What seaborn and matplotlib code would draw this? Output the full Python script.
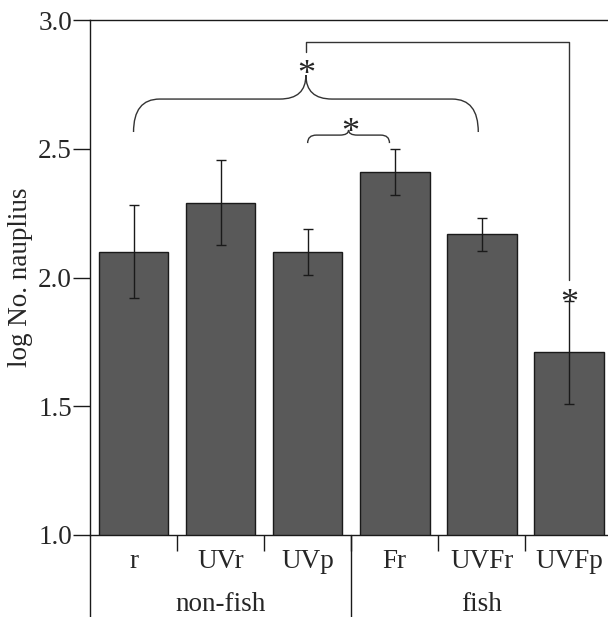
import numpy as np
import pandas as pd
import matplotlib
matplotlib.use("Agg")
import matplotlib.pyplot as plt
import matplotlib.transforms as mtransforms
from matplotlib.path import Path
from matplotlib.patches import PathPatch
import seaborn as sns

# data
treatments = ["r", "UVr", "UVp", "Fr", "UVFr", "UVFp"]
groups = ["non-fish", "fish"]
group_of = ["non-fish", "non-fish", "non-fish", "fish", "fish", "fish"]
means = [2.10, 2.29, 2.10, 2.41, 2.167, 1.71]
errs = [0.18, 0.165, 0.09, 0.09, 0.065, 0.20]

sns.set_style("ticks")
plt.rcParams['font.family'] = 'serif'
plt.rcParams['font.serif'] = ['Liberation Serif', 'DejaVu Serif']
plt.rcParams['font.size'] = 19.5

df = pd.DataFrame({"treatment": treatments, "mean": means, "group": group_of})

fig = plt.figure(figsize=(6.08, 6.17), dpi=100)
ax = fig.add_axes([90/608, 1-535/617, 1-90/608, (535-20)/617])

sns.barplot(data=df, x="treatment", y="mean", order=treatments, color="#595959",
            saturation=1, width=0.8, edgecolor="#1a1a1a", linewidth=1.0,
            errorbar=None, ax=ax)
ax.errorbar(np.arange(len(treatments)), means, yerr=errs, fmt="none",
            ecolor="#1a1a1a", elinewidth=1.0, capsize=3.6, capthick=1.0)

ax.set_xlim(-0.5, 5.45)
ax.set_ylim(1.0, 3.0)
ax.set_yticks([1.0, 1.5, 2.0, 2.5, 3.0])
ax.set_yticklabels(["1.0", "1.5", "2.0", "2.5", "3.0"])
ax.set_ylabel("log No. nauplius", labelpad=4)
ax.set_xlabel("")

for s in ["left", "top", "bottom"]:
    ax.spines[s].set_visible(True)
    ax.spines[s].set_linewidth(1.0)
    ax.spines[s].set_color("#1a1a1a")
ax.spines["right"].set_visible(False)

ax.tick_params(axis="y", direction="out", length=12, width=1.0, pad=1, color="#1a1a1a")
ax.tick_params(axis="x", which="major", length=0, pad=10)
ax.set_xticks(np.arange(len(treatments)))
ax.set_xticklabels(treatments)
ax.set_xticks([0.5, 1.5, 2.5, 3.5, 4.5], minor=True)
ax.tick_params(axis="x", which="minor", direction="out", length=11.5, width=1.0, color="#1a1a1a")

# long group separators and group labels
trans = mtransforms.blended_transform_factory(ax.transData, ax.transAxes)
for xb in [-0.5, 2.5]:
    ax.plot([xb, xb], [0, -0.25], transform=trans, color="#1a1a1a", lw=1.0, clip_on=False)
for g, xc in zip(groups, [1.0, 4.0]):
    ax.text(xc, -0.1476, g, transform=trans, ha="center", va="baseline")

line_col = "#333333"


def brace(x0, x1, y_end, y_h, y_tip, rx):
    xm = (x0 + x1) / 2
    verts = [(x0, y_end), (x0, y_h), (x0 + rx, y_h),
             (xm - rx, y_h), (xm, y_h), (xm, y_tip),
             (xm, y_h), (xm + rx, y_h),
             (x1 - rx, y_h), (x1, y_h), (x1, y_end)]
    codes = [Path.MOVETO, Path.CURVE3, Path.CURVE3,
             Path.LINETO, Path.CURVE3, Path.CURVE3,
             Path.CURVE3, Path.CURVE3,
             Path.LINETO, Path.CURVE3, Path.CURVE3]
    ax.add_patch(PathPatch(Path(verts, codes), facecolor="none",
                           edgecolor=line_col, lw=1.0, clip_on=False))


# big brace r..UVFr, small brace UVp..Fr
brace(0.0, 3.96, 2.565, 2.693, 2.786, 0.3)
brace(2.0, 2.94, 2.522, 2.553, 2.573, 0.1)

# bracket from big brace to UVFp
ax.plot([1.98, 1.98, 5.0, 5.0], [2.876, 2.915, 2.915, 1.99], color=line_col, lw=1.0)

star_kw = dict(ha="center", va="center", fontsize=26)
ax.text(1.99, 2.785, "*", **star_kw)
ax.text(2.49, 2.56, "*", **star_kw)
ax.text(5.0, 1.895, "*", **star_kw)

fig.savefig("out.png", dpi=100)
